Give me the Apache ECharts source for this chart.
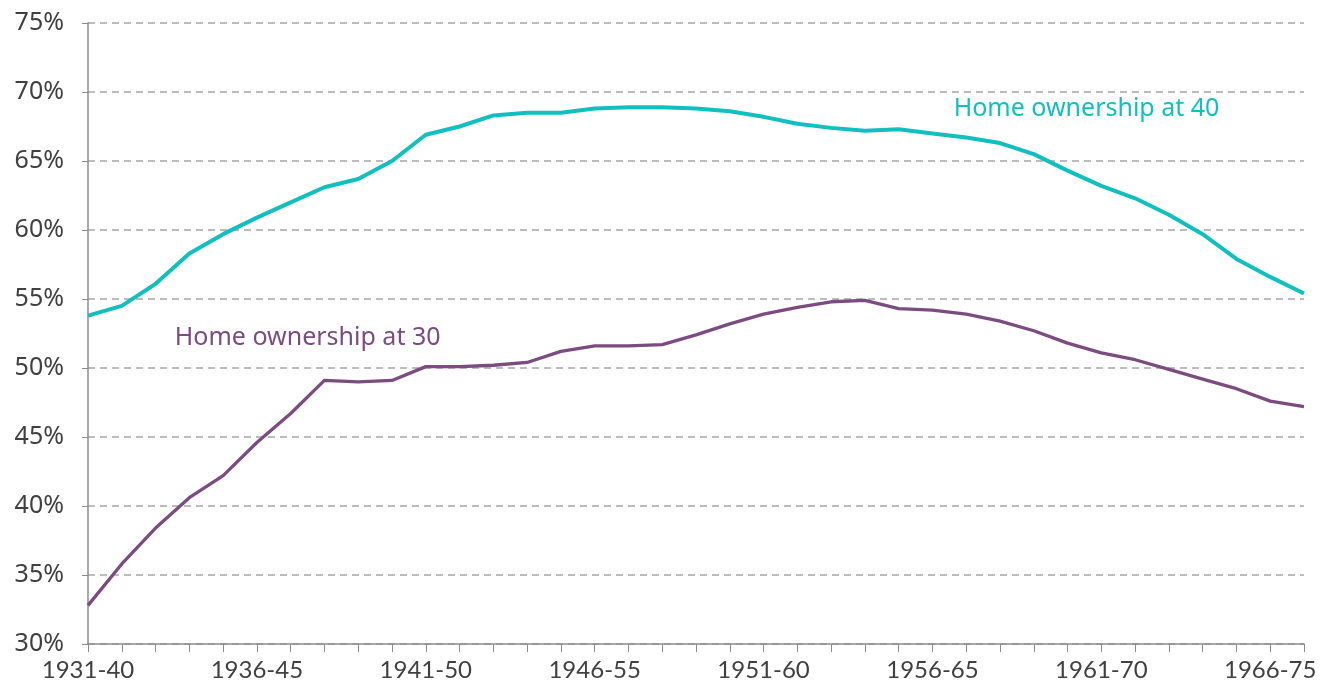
<!DOCTYPE html>
<html>
<head>
<meta charset="utf-8">
<script src="https://cdn.jsdelivr.net/npm/echarts@6/dist/echarts.min.js"></script>
<style>
  html, body { margin: 0; padding: 0; background: #fff; }
  #chart { width: 1329px; height: 690px; }
</style>
</head>
<body>
<div id="chart"></div>
<script>
// Birth cohorts (year of birth range)
const cohorts = [];
for (let y = 1931; y <= 1967; y++) {
  cohorts.push(y + '-' + String((y + 9) % 100).padStart(2, '0'));
}

// Home ownership rate (%) at age 40, by cohort
const ownershipAt40 = [
  53.8, 54.5, 56.1, 58.3, 59.7, 60.9, 62.0, 63.1, 63.7, 65.0,
  66.9, 67.5, 68.3, 68.5, 68.5, 68.8, 68.9, 68.9, 68.8, 68.6,
  68.2, 67.7, 67.4, 67.2, 67.3, 67.0, 66.7, 66.3, 65.5, 64.3,
  63.2, 62.3, 61.1, 59.7, 57.9, 56.6, 55.4
];

// Home ownership rate (%) at age 30, by cohort
const ownershipAt30 = [
  32.8, 35.8, 38.4, 40.6, 42.2, 44.6, 46.7, 49.1, 49.0, 49.1,
  50.1, 50.1, 50.2, 50.4, 51.2, 51.6, 51.6, 51.7, 52.4, 53.2,
  53.9, 54.4, 54.8, 54.9, 54.3, 54.2, 53.9, 53.4, 52.7, 51.8,
  51.1, 50.6, 49.9, 49.2, 48.5, 47.6, 47.2
];

const yTicks = [30, 35, 40, 45, 50, 55, 60, 65, 70, 75];

const teal = '#11bfbf';
const purple = '#7a4c80';
const xFont = 'Lato, "Noto Sans", sans-serif';
const textFont = '"Noto Sans", "Open Sans", sans-serif';

const chart = echarts.init(document.getElementById('chart'), null, { renderer: 'canvas' });

chart.setOption({
  animation: false,
  backgroundColor: '#ffffff',
  grid: { left: 88, right: 25, top: 23, bottom: 46, containLabel: false },
  xAxis: {
    type: 'category',
    data: cohorts,
    boundaryGap: false,
    axisLine: { show: true, lineStyle: { color: '#8c8c8c', width: 1.5 } },
    axisTick: { show: true, interval: 0, length: 8, lineStyle: { color: '#8c8c8c', width: 1 } },
    axisLabel: {
      interval: 4,
      color: '#404040',
      fontFamily: xFont,
      fontSize: 24,
      margin: 14
    },
    splitLine: { show: false }
  },
  yAxis: {
    type: 'value',
    min: yTicks[0],
    max: yTicks[yTicks.length - 1],
    interval: 5,
    axisLine: { show: true, lineStyle: { color: '#8c8c8c', width: 1.5 } },
    axisTick: { show: true, length: 6, lineStyle: { color: '#8c8c8c', width: 1 } },
    axisLabel: {
      color: '#404040',
      fontFamily: textFont,
      fontSize: 25,
      margin: 24,
      formatter: v => v + '%'
    },
    splitLine: {
      show: true,
      lineStyle: { color: '#a6a6a6', width: 1.5, type: [7, 5] }
    }
  },
  series: [
    {
      name: 'Home ownership at 40',
      type: 'line',
      data: ownershipAt40,
      symbol: 'none',
      lineStyle: { color: teal, width: 4 },
      itemStyle: { color: teal },
      z: 3,
      markPoint: {
        symbol: 'circle',
        symbolSize: 0,
        data: [{ coord: [cohorts[29], 68.75], value: 0 }],
        label: {
          show: true,
          position: 'inside',
          offset: [19, 0],
          formatter: 'Home ownership at 40',
          color: teal,
          fontFamily: textFont,
          fontSize: 25
        }
      }
    },
    {
      name: 'Home ownership at 30',
      type: 'line',
      data: ownershipAt30,
      symbol: 'none',
      lineStyle: { color: purple, width: 3.3 },
      itemStyle: { color: purple },
      z: 2,
      markPoint: {
        symbol: 'circle',
        symbolSize: 0,
        data: [{ coord: [cohorts[6], 52.15], value: 0 }],
        label: {
          show: true,
          position: 'inside',
          offset: [17, 0],
          formatter: 'Home ownership at 30',
          color: purple,
          fontFamily: textFont,
          fontSize: 25
        }
      }
    }
  ]
});
</script>
</body>
</html>
